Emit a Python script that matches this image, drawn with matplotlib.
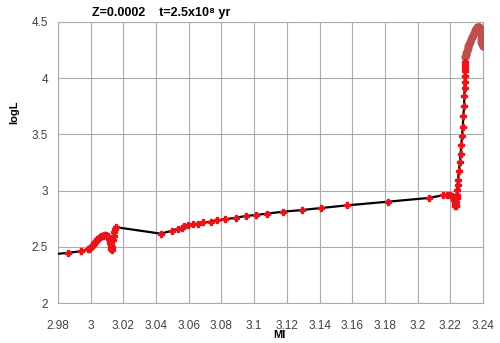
import matplotlib
matplotlib.use("Agg")
import matplotlib.pyplot as plt
import numpy as np

plt.rcParams['font.family'] = ['Liberation Sans', 'DejaVu Sans']

# track points (black line + red markers)
track_mi = [2.975, 2.9862, 2.9940, 2.9985,
            2.9992, 2.9998, 3.0003, 3.0008, 3.0013, 3.0018, 3.0023, 3.0028,
            3.0034, 3.0040, 3.0046, 3.0052, 3.0058, 3.0064, 3.0070, 3.0076,
            3.0082, 3.0088, 3.0094, 3.0100, 3.0105, 3.0110, 3.0114, 3.0117,
            3.0120, 3.0122, 3.0124, 3.0126, 3.0128, 3.0131, 3.0135, 3.0140,
            3.0145, 3.0149, 3.0153,
            3.0428, 3.0497, 3.0536, 3.0557, 3.0573, 3.0597, 3.0628, 3.0655,
            3.0689, 3.0734, 3.0775, 3.0822, 3.0889, 3.0948, 3.1009, 3.1079,
            3.1175, 3.1291, 3.1409, 3.1570, 3.1816, 3.2070, 3.2153, 3.2178,
            3.2198, 3.2212,
            3.2220, 3.2224, 3.2227, 3.2229, 3.2231, 3.2233, 3.2235, 3.2237,
            3.2238, 3.2239,
            3.2240, 3.2244, 3.2247, 3.2252, 3.2258, 3.2263, 3.2267, 3.2272,
            3.2276, 3.2280, 3.2284, 3.2286, 3.2287, 3.2288, 3.2289, 3.2290,
            3.2290, 3.2291, 3.2292]
track_logl = [2.430, 2.447, 2.460, 2.478,
              2.482, 2.487, 2.495, 2.505, 2.515, 2.525, 2.535, 2.545,
              2.555, 2.565, 2.573, 2.580, 2.587, 2.592, 2.596, 2.599,
              2.601, 2.602, 2.601, 2.598, 2.592, 2.582, 2.568, 2.552,
              2.535, 2.515, 2.495, 2.480, 2.472, 2.500, 2.560, 2.600,
              2.630, 2.655, 2.675,
              2.617, 2.643, 2.661, 2.670, 2.682, 2.691, 2.700, 2.706,
              2.718, 2.723, 2.736, 2.745, 2.759, 2.774, 2.783, 2.795,
              2.812, 2.827, 2.845, 2.869, 2.901, 2.935, 2.958, 2.958,
              2.961, 2.955,
              2.935, 2.915, 2.895, 2.878, 2.865, 2.860, 2.870, 2.895,
              2.930, 2.965,
              3.005, 3.050, 3.094, 3.170, 3.250, 3.330, 3.410, 3.490,
              3.570, 3.660, 3.750, 3.840, 3.910, 3.970, 4.020, 4.060,
              4.090, 4.120, 4.147]

# late stage (brown markers)
late_mi = [3.2291, 3.2294, 3.2298, 3.2302, 3.2306, 3.2310, 3.2315, 3.2320,
           3.2326, 3.2332, 3.2338, 3.2345, 3.2352, 3.2358, 3.2364, 3.2369,
           3.2373, 3.2377, 3.2381, 3.2384, 3.2386, 3.2387, 3.2388, 3.2390,
           3.2393, 3.2397, 3.2402, 3.2408]
late_logl = [4.185, 4.205, 4.225, 4.245, 4.265, 4.285, 4.305, 4.325,
             4.345, 4.365, 4.385, 4.405, 4.425, 4.440, 4.452, 4.458,
             4.458, 4.452, 4.440, 4.425, 4.405, 4.380, 4.350, 4.320,
             4.300, 4.290, 4.285, 4.285]

xticks = np.round(np.arange(2.98, 3.2401, 0.02), 2)
yticks = [2, 2.5, 3, 3.5, 4, 4.5]

fig = plt.figure(figsize=(5, 3.43), dpi=100)
ax = fig.add_axes([0.116, 0.1166, 0.85, 0.8193])

ax.plot(late_mi, late_logl, color='#c0504d', lw=0, marker='o', ms=4.8,
        zorder=3)
ax.plot(track_mi, track_logl, color='black', lw=1.6, marker='P', ms=4.4,
        mfc='#e8141a', mec='#e8141a', zorder=4)

ax.set_xlim(2.98, 3.24)
ax.set_ylim(2, 4.5)
ax.set_xticks(xticks)
ax.set_xticklabels(['%g' % t for t in xticks])
ax.set_yticks(yticks)
ax.set_yticklabels(['%g' % t for t in yticks])
ax.tick_params(length=0, labelsize=8.5, colors='#404040')
ax.tick_params(axis='x', pad=12)
ax.tick_params(axis='y', pad=7)
ax.grid(True, color='#acacac', lw=0.8)
ax.set_axisbelow(True)
for s in ax.spines.values():
    s.set_color('#acacac')
    s.set_linewidth(0.8)

ax.set_xlabel('Ml', fontsize=8, fontweight='bold')
ax.xaxis.set_label_coords(0.52, -0.097)
ax.set_ylabel('logL', fontsize=8, fontweight='bold')
ax.yaxis.set_label_coords(-0.09, 0.68)

fig.text(0.184, 0.962, 'Z=0.0002    t=2.5x10\u2078 yr', fontsize=9,
         fontweight='bold', ha='left', va='center')

fig.savefig('out.png', dpi=100)
